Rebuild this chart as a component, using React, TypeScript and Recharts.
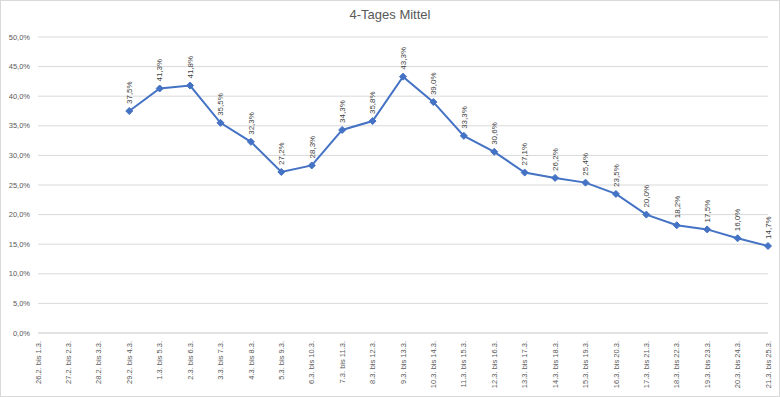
import { LineChart, Line, XAxis, YAxis, CartesianGrid, LabelList } from 'recharts';

const periods = [
  '26.2. bis 1.3.', '27.2. bis 2.3.', '28.2. bis 3.3.', '29.2. bis 4.3.',
  '1.3. bis 5.3.', '2.3. bis 6.3.', '3.3. bis 7.3.', '4.3. bis 8.3.',
  '5.3. bis 9.3.', '6.3. bis 10.3.', '7.3. bis 11.3.', '8.3. bis 12.3.',
  '9.3. bis 13.3.', '10.3. bis 14.3.', '11.3. bis 15.3.', '12.3. bis 16.3.',
  '13.3. bis 17.3.', '14.3. bis 18.3.', '15.3. bis 19.3.', '16.3. bis 20.3.',
  '17.3. bis 21.3.', '18.3. bis 22.3.', '19.3. bis 23.3.', '20.3. bis 24.3.',
  '21.3. bis 25.3.',
];

// first three windows have no value
const mittel = [
  null, null, null, 37.5, 41.3, 41.8, 35.5, 32.3, 27.2, 28.3, 34.3, 35.8, 43.3,
  39.0, 33.3, 30.6, 27.1, 26.2, 25.4, 23.5, 20.0, 18.2, 17.5, 16.0, 14.7,
];

const yTicks = [0, 5, 10, 15, 20, 25, 30, 35, 40, 45, 50];

const data = periods.map((p, i) => ({ period: p, value: mittel[i] }));

const fmt = (v: number) => v.toFixed(1).replace('.', ',') + '%';

const BLUE = '#4472C4';
const GREY = '#595959';
const FONT = 'Liberation Sans, Arial, sans-serif';

function Diamond(props: any) {
  const { cx, cy, value } = props;
  if (value == null || cx == null || cy == null) return null;
  const r = 3.5;
  return (
    <path
      d={`M${cx},${cy - r} L${cx + r},${cy} L${cx},${cy + r} L${cx - r},${cy} Z`}
      fill={BLUE}
      stroke={BLUE}
    />
  );
}

function XTick(props: any) {
  const { x, y, payload } = props;
  return (
    <text
      transform={`translate(${x},${y}) rotate(-90)`}
      textAnchor="end"
      dy="0.35em"
      fontSize={7.5}
      fill={GREY}
      fontFamily={FONT}
    >
      {payload.value}
    </text>
  );
}

function ValueLabel(props: any) {
  const { x, y, value } = props;
  if (value == null) return null;
  return (
    <text
      transform={`translate(${x},${y - 7}) rotate(-90)`}
      textAnchor="start"
      dy="0.35em"
      fontSize={8}
      fill="#404040"
      fontFamily={FONT}
    >
      {fmt(value)}
    </text>
  );
}

export default function App() {
  return (
    <div style={{ position: 'absolute', left: 0, top: 0, width: 780, height: 397, background: '#fff' }}>
      <div
        style={{
          position: 'absolute',
          left: 0,
          top: 0,
          width: 778,
          height: 395,
          border: '1px solid #d9d9d9',
        }}
      />
      <div
        style={{
          position: 'absolute',
          top: 7,
          width: 780,
          textAlign: 'center',
          fontFamily: FONT,
          fontSize: 13,
          color: GREY,
        }}
      >
        4-Tages Mittel
      </div>
      <LineChart
        width={780}
        height={397}
        data={data}
        margin={{ top: 37, right: 12, bottom: 4, left: 0 }}
      >
        <CartesianGrid vertical={false} stroke="#d9d9d9" />
        <XAxis
          dataKey="period"
          interval={0}
          height={60}
          tick={<XTick />}
          tickLine={false}
          axisLine={{ stroke: '#d9d9d9' }}
        />
        <YAxis
          width={38}
          domain={[0, 50]}
          ticks={yTicks}
          tickFormatter={fmt}
          tickLine={false}
          axisLine={false}
          tick={{ fontSize: 7.5, fill: GREY, fontFamily: FONT }}
        />
        <Line
          dataKey="value"
          stroke={BLUE}
          strokeWidth={2}
          dot={<Diamond />}
          activeDot={false}
          isAnimationActive={false}
        >
          <LabelList dataKey="value" content={<ValueLabel />} />
        </Line>
      </LineChart>
    </div>
  );
}
